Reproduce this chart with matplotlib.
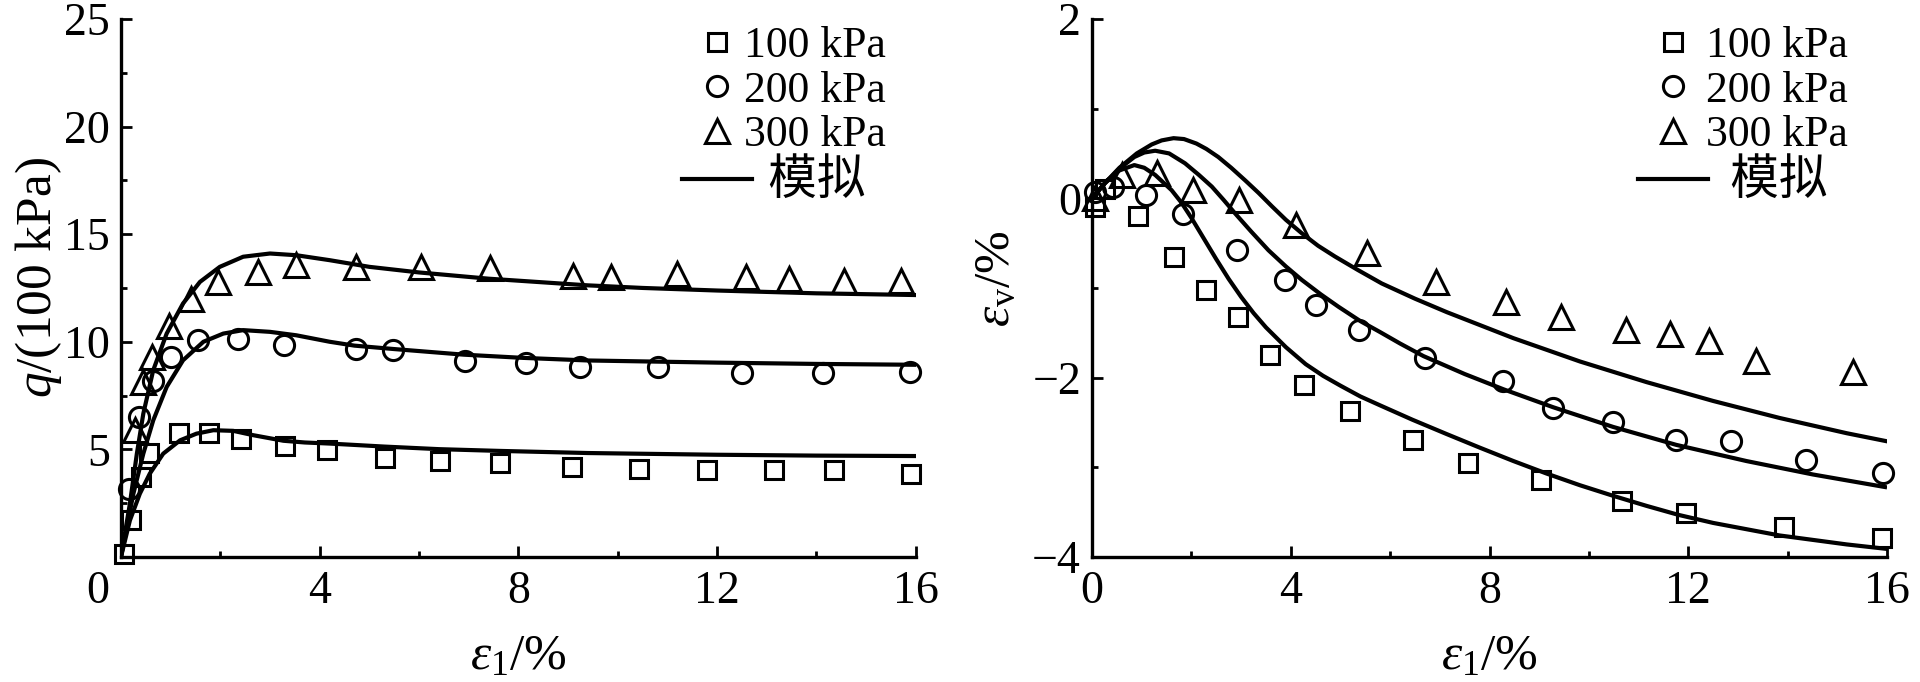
import matplotlib
matplotlib.use("Agg")
import matplotlib.pyplot as plt
from matplotlib.lines import Line2D
from matplotlib.ticker import MultipleLocator

plt.rcParams['font.family'] = ['Liberation Serif', 'Noto Sans CJK SC']
plt.rcParams['mathtext.fontset'] = 'custom'
plt.rcParams['mathtext.rm'] = 'Liberation Serif'
plt.rcParams['mathtext.it'] = 'Liberation Serif:italic'
plt.rcParams['axes.unicode_minus'] = True

# ---------------- data: left panel (q vs eps1) ----------------
eps_q_100 = [0.07, 0.2, 0.4, 0.57, 1.16, 1.77, 2.42, 3.31, 4.15, 5.31, 6.43, 7.63, 9.07, 10.42, 11.8, 13.14, 14.35, 15.9]
q_100 = [0.16, 1.74, 3.72, 4.81, 5.77, 5.74, 5.5, 5.15, 4.96, 4.62, 4.47, 4.37, 4.2, 4.1, 4.04, 4.04, 4.04, 3.84]
eps_q_200 = [0.17, 0.37, 0.64, 1.0, 1.55, 2.35, 3.28, 4.74, 5.48, 6.92, 8.15, 9.24, 10.82, 12.5, 14.13, 15.89]
q_200 = [3.18, 6.51, 8.17, 9.3, 10.08, 10.11, 9.84, 9.66, 9.61, 9.12, 8.99, 8.81, 8.83, 8.53, 8.53, 8.59]
eps_q_300 = [0.28, 0.44, 0.63, 0.97, 1.4, 1.95, 2.76, 3.53, 4.74, 6.03, 7.43, 9.09, 9.87, 11.19, 12.58, 13.45, 14.56, 15.7]
q_300 = [5.89, 8.14, 9.3, 10.73, 11.97, 12.76, 13.26, 13.57, 13.49, 13.49, 13.41, 13.05, 13.03, 13.13, 13.03, 12.93, 12.83, 12.83]

sim_eq_100 = [0, 0.18, 0.38, 0.58, 0.85, 1.19, 1.52, 1.86, 2.26, 2.66, 3.27, 3.7, 4.2, 5.3, 6.4, 7.6, 9.4, 12, 14, 16]
sim_q_100 = [0, 1.7, 2.94, 3.87, 4.8, 5.42, 5.73, 5.89, 5.86, 5.66, 5.4, 5.32, 5.27, 5.13, 5.01, 4.93, 4.83, 4.75, 4.71, 4.69]
sim_eq_200 = [0, 0.25, 0.45, 0.65, 0.92, 1.25, 1.66, 2.06, 2.46, 3.0, 3.53, 4.2, 4.7, 5.5, 6.9, 8.1, 9.4, 12, 14, 16]
sim_q_200 = [0, 2.94, 4.8, 6.35, 7.9, 9.14, 10.0, 10.38, 10.54, 10.46, 10.3, 10.0, 9.82, 9.66, 9.4, 9.25, 9.13, 9.03, 8.97, 8.93]
sim_eq_300 = [0, 0.18, 0.32, 0.45, 0.65, 0.92, 1.25, 1.59, 1.99, 2.46, 3.0, 3.53, 4.2, 5.0, 6.0, 7.4, 9.4, 10.5, 12, 14, 16]
sim_q_300 = [0, 2.48, 4.8, 6.66, 8.68, 10.38, 11.78, 12.78, 13.48, 13.95, 14.1, 14.02, 13.79, 13.48, 13.22, 12.93, 12.62, 12.5, 12.38, 12.25, 12.17]

# ---------------- data: right panel (eps_v vs eps1) ----------------
eps_v_x_100 = [0.05, 0.26, 0.92, 1.64, 2.29, 2.93, 3.59, 4.26, 5.19, 6.45, 7.56, 9.03, 10.66, 11.95, 13.93, 15.89]
eps_v_100 = [-0.1, 0.1, -0.2, -0.65, -1.02, -1.32, -1.75, -2.08, -2.37, -2.69, -2.95, -3.14, -3.38, -3.51, -3.67, -3.79]
eps_v_x_200 = [0.06, 0.43, 1.08, 1.83, 2.91, 3.89, 4.51, 5.37, 6.7, 8.28, 9.28, 10.48, 11.75, 12.87, 14.37, 15.92]
eps_v_200 = [0.07, 0.13, 0.04, -0.18, -0.58, -0.91, -1.19, -1.47, -1.78, -2.04, -2.34, -2.5, -2.69, -2.71, -2.92, -3.06]
eps_v_x_300 = [0.06, 0.6, 1.3, 2.04, 2.96, 4.1, 5.53, 6.92, 8.34, 9.43, 10.74, 11.63, 12.42, 13.37, 15.32]
eps_v_300 = [0.0, 0.26, 0.28, 0.09, -0.02, -0.3, -0.61, -0.93, -1.16, -1.32, -1.47, -1.51, -1.59, -1.81, -1.94]

sim_ev_x_100 = [0, 0.26, 0.55, 0.85, 1.05, 1.27, 1.6, 1.8, 2.0, 2.25, 2.5, 2.75, 3.0, 3.25, 3.5, 3.9, 4.3, 4.65, 5.0,
                5.4, 5.8, 6.45, 7.14, 7.8, 8.48, 9.15, 9.82, 10.5, 11.16, 11.8, 12.5, 13.84, 15.19, 16]
sim_ev_100 = [0, 0.17, 0.31, 0.37, 0.34, 0.26, 0.09, -0.05, -0.22, -0.45, -0.68, -0.9, -1.1, -1.28, -1.44, -1.66, -1.85,
              -1.98, -2.09, -2.21, -2.31, -2.47, -2.63, -2.78, -2.93, -3.07, -3.2, -3.32, -3.43, -3.53, -3.62, -3.76,
              -3.86, -3.91]
sim_ev_x_200 = [0, 0.26, 0.55, 0.85, 1.05, 1.27, 1.55, 1.87, 2.15, 2.41, 2.65, 2.88, 3.2, 3.55, 3.9, 4.22, 4.6, 4.96,
                5.4, 5.79, 6.2, 6.67, 7.5, 8.28, 9.28, 10.49, 11.76, 13.17, 14.51, 15.96]
sim_ev_200 = [0, 0.17, 0.33, 0.46, 0.51, 0.53, 0.5, 0.39, 0.26, 0.13, -0.02, -0.17, -0.37, -0.58, -0.76, -0.91, -1.07,
              -1.21, -1.37, -1.49, -1.62, -1.76, -1.96, -2.13, -2.33, -2.55, -2.75, -2.93, -3.08, -3.22]
sim_ev_x_300 = [0, 0.26, 0.55, 0.9, 1.2, 1.4, 1.64, 1.85, 2.1, 2.3, 2.54, 2.8, 3.08, 3.35, 3.62, 3.9, 4.22, 4.55, 4.89,
                5.35, 5.83, 6.5, 7.14, 8.48, 9.82, 11.16, 12.5, 13.84, 15.19, 16]
sim_ev_300 = [0, 0.17, 0.34, 0.5, 0.6, 0.645, 0.67, 0.66, 0.61, 0.55, 0.46, 0.34, 0.2, 0.06, -0.09, -0.24, -0.39, -0.53,
              -0.65, -0.8, -0.95, -1.12, -1.27, -1.56, -1.82, -2.05, -2.26, -2.45, -2.62, -2.71]

legend_labels = ['100 kPa', '200 kPa', '300 kPa', '模拟']

# ---------------- styling ----------------
LW = 3.0
MEW = 2.2
mk = dict(linestyle='none', mfc='none', mec='black', mew=MEW)
sq = dict(marker='s', ms=13, **mk)
ci = dict(marker='o', ms=14.5, **mk)
tr = dict(marker='^', ms=17, **mk)

fig = plt.figure(figsize=(19.2, 6.82), dpi=100)
axL = fig.add_axes([0.063, 0.1833, 0.414, 0.789])
axR = fig.add_axes([0.5688, 0.1833, 0.414, 0.789])


def style_axis(ax):
    for s in ['top', 'right']:
        ax.spines[s].set_visible(False)
    for s in ['left', 'bottom']:
        ax.spines[s].set_linewidth(2.4)
    ax.tick_params(which='both', direction='in', width=2.0, labelsize=33)
    ax.tick_params(which='major', length=8)
    ax.tick_params(which='minor', length=4.5)
    ax.tick_params(axis='x', pad=10)
    ax.tick_params(axis='y', pad=8)


# left panel
axL.plot(eps_q_100, q_100, **sq, clip_on=False, zorder=3)
axL.plot(eps_q_200, q_200, **ci, clip_on=False, zorder=3)
axL.plot(eps_q_300, q_300, **tr, clip_on=False, zorder=3)
for xs, ys in [(sim_eq_100, sim_q_100), (sim_eq_200, sim_q_200), (sim_eq_300, sim_q_300)]:
    axL.plot(xs, ys, color='black', lw=LW, solid_joinstyle='round', zorder=4)
axL.set_xlim(0, 16)
axL.set_ylim(0, 25)
axL.set_xticks([4, 8, 12, 16])
axL.xaxis.set_minor_locator(MultipleLocator(2))
axL.set_yticks([5, 10, 15, 20, 25])
axL.yaxis.set_minor_locator(MultipleLocator(2.5))
style_axis(axL)
axL.annotate('0', xy=(0, 0), xycoords=('data', 'axes fraction'), xytext=(-23, -14),
             textcoords='offset pixels', ha='center', va='top', fontsize=33)
axL.set_xlabel(r'$\varepsilon_1$/%', fontsize=37)
axL.xaxis.set_label_coords(0.5, -0.142)
axL.set_ylabel(r'$q$/(100 kPa)', fontsize=37)
axL.yaxis.set_label_coords(-0.072, 0.519)

# right panel
axR.plot(eps_v_x_100, eps_v_100, **sq, clip_on=False, zorder=3)
axR.plot(eps_v_x_200, eps_v_200, **ci, clip_on=False, zorder=3)
axR.plot(eps_v_x_300, eps_v_300, **tr, clip_on=False, zorder=3)
for xs, ys in [(sim_ev_x_100, sim_ev_100), (sim_ev_x_200, sim_ev_200), (sim_ev_x_300, sim_ev_300)]:
    axR.plot(xs, ys, color='black', lw=LW, solid_joinstyle='round', zorder=4)
axR.set_xlim(0, 16)
axR.set_ylim(-4, 2)
axR.xaxis.set_major_locator(MultipleLocator(4))
axR.xaxis.set_minor_locator(MultipleLocator(2))
axR.yaxis.set_major_locator(MultipleLocator(2))
axR.yaxis.set_minor_locator(MultipleLocator(1))
style_axis(axR)
axR.set_xlabel(r'$\varepsilon_1$/%', fontsize=37)
axR.xaxis.set_label_coords(0.5, -0.142)
axR.set_ylabel(r'$\varepsilon_{\mathrm{v}}$/%', fontsize=37)
axR.yaxis.set_label_coords(-0.09, 0.517)


def add_legend(ax, anchor, pad, cjk_prefix):
    handles = [Line2D([], [], **sq), Line2D([], [], **ci), Line2D([], [], **tr),
               Line2D([], [], color='black', lw=LW)]
    labels = legend_labels[:3] + [cjk_prefix + legend_labels[3]]
    leg = ax.legend(handles, labels, loc='upper left', bbox_to_anchor=anchor,
                    frameon=False, fontsize=31.5, handlelength=1.6, handletextpad=pad,
                    labelspacing=0.1, borderpad=0, borderaxespad=0, numpoints=1)
    leg.get_texts()[3].set_fontsize(35)
    return leg


add_legend(axL, (0.706, 0.986), -0.19, '  ')
add_legend(axR, (0.687, 0.986), -0.05, '  ')

fig.savefig('out.png', dpi=100)
